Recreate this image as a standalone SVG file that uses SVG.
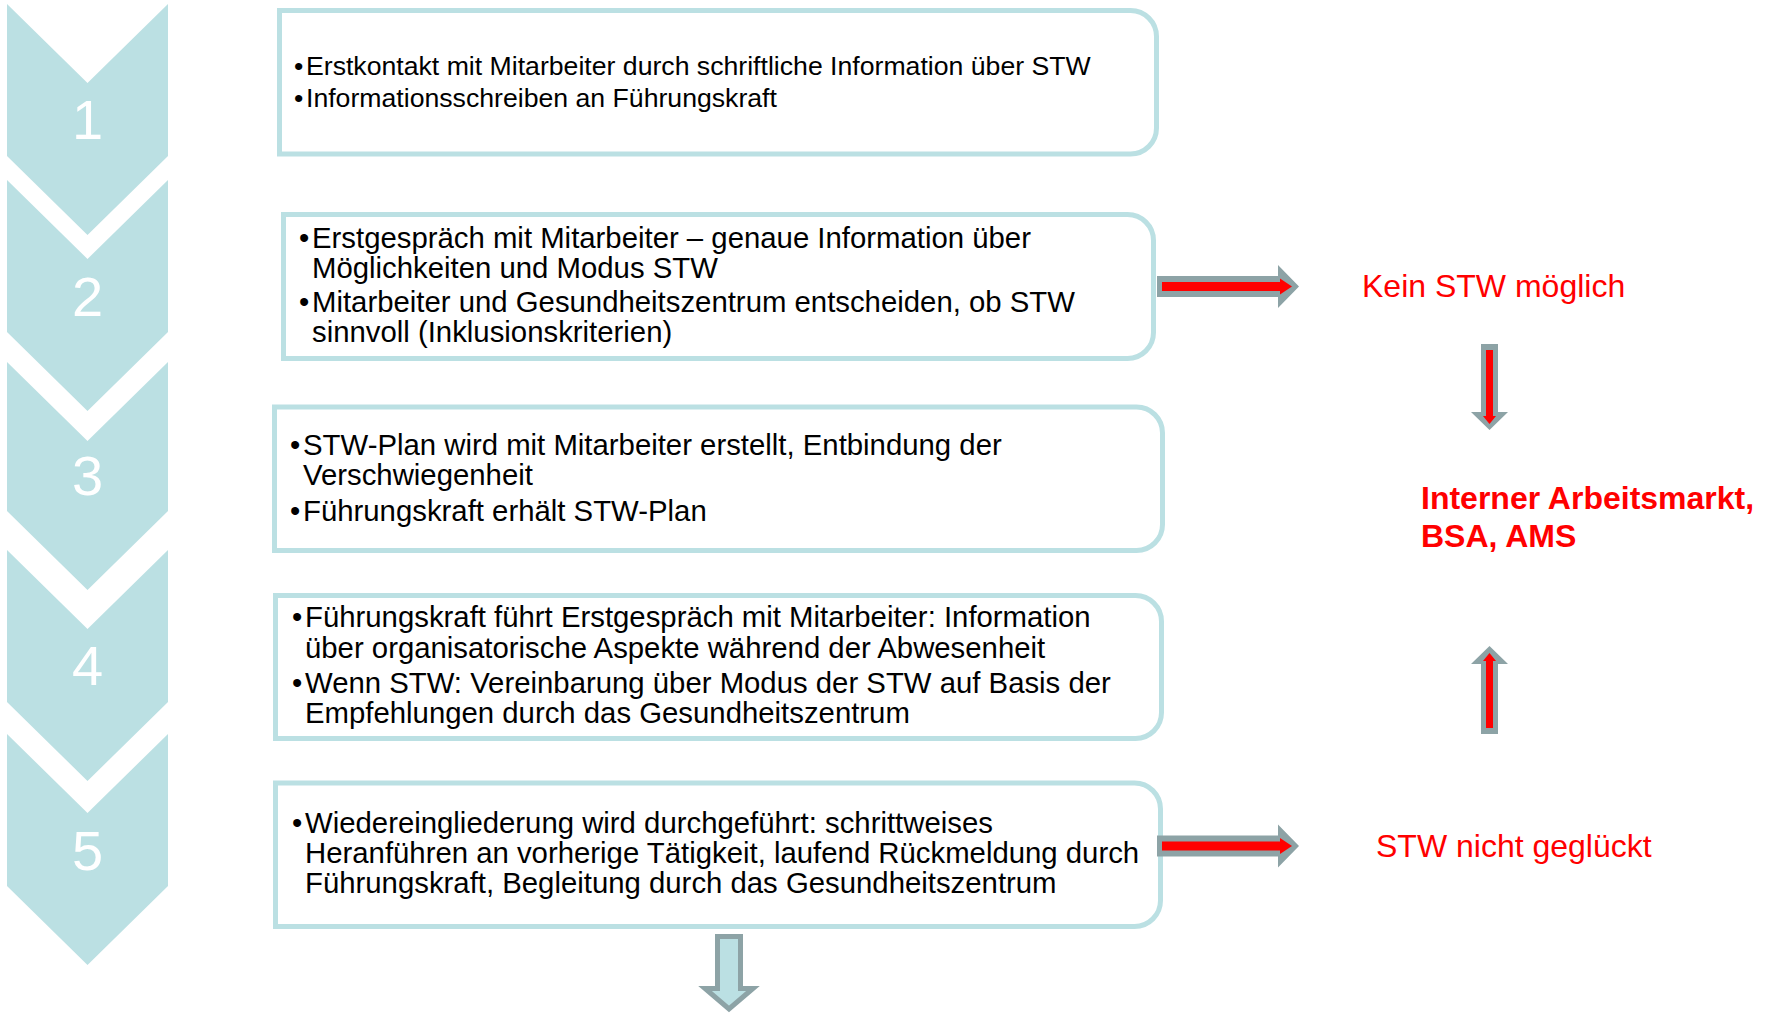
<svg xmlns="http://www.w3.org/2000/svg" width="1772" height="1014" viewBox="0 0 1772 1014">
<style>
.chev{fill:#BBE0E3}
.num{font-family:"Liberation Sans",Arial,sans-serif;font-size:56px;fill:#FFFFFF;text-anchor:middle}
.box{fill:#FFFFFF;stroke:#BBE0E3;stroke-width:5}
.t{font-family:"Liberation Sans",Arial,sans-serif;font-size:29.33px;fill:#000000}
.t1{font-size:26.65px}
.red{font-family:"Liberation Sans",Arial,sans-serif;font-size:32px;fill:#FF0000}
.b{font-weight:bold}
.ag{fill:#8DA3A6}
.ar{fill:#FF0000}
.down{fill:#BBE0E3;stroke:#8DA3A6;stroke-width:5}
</style>
<rect width="1772" height="1014" fill="#FFFFFF"/>

<g id="steps">
  <g id="step1"><polygon class="chev" points="7,4 87.5,83 168,4 168,156 87.5,235 7,156"/><text class="num" x="87.5" y="139">1</text></g>
  <g id="step2"><polygon class="chev" points="7,180 87.5,259 168,180 168,332 87.5,411 7,332"/><text class="num" x="87.5" y="316">2</text></g>
  <g id="step3"><polygon class="chev" points="7,362 87.5,441 168,362 168,511 87.5,590 7,511"/><text class="num" x="87.5" y="495">3</text></g>
  <g id="step4"><polygon class="chev" points="7,550 87.5,629 168,550 168,702 87.5,781 7,702"/><text class="num" x="87.5" y="685">4</text></g>
  <g id="step5"><polygon class="chev" points="7,734 87.5,813 168,734 168,886 87.5,965 7,886"/><text class="num" x="87.5" y="870">5</text></g>
</g>

<g id="box1">
  <path class="box" d="M279.5,10.5 H1130.5 A26,26 0 0 1 1156.5,36.5 V128 A26,26 0 0 1 1130.5,154 H279.5 Z"/>
  <text class="t t1"><tspan x="294" y="75">•</tspan><tspan x="306" y="75">Erstkontakt mit Mitarbeiter durch schriftliche Information über STW</tspan><tspan x="294" y="107">•</tspan><tspan x="306" y="107">Informationsschreiben an Führungskraft</tspan></text>
</g>

<g id="box2">
  <path class="box" d="M283.5,214.5 H1127.5 A26,26 0 0 1 1153.5,240.5 V332.5 A26,26 0 0 1 1127.5,358.5 H283.5 Z"/>
  <text class="t"><tspan x="299" y="248">•</tspan><tspan x="312" y="248">Erstgespräch mit Mitarbeiter – genaue Information über</tspan><tspan x="312" y="278">Möglichkeiten und Modus STW</tspan><tspan x="299" y="312">•</tspan><tspan x="312" y="312">Mitarbeiter und Gesundheitszentrum entscheiden, ob STW</tspan><tspan x="312" y="342">sinnvoll (Inklusionskriterien)</tspan></text>
</g>

<g id="box3">
  <path class="box" d="M274.5,407 H1136.5 A26,26 0 0 1 1162.5,433 V524.5 A26,26 0 0 1 1136.5,550.5 H274.5 Z"/>
  <text class="t"><tspan x="290" y="455">•</tspan><tspan x="303" y="455">STW-Plan wird mit Mitarbeiter erstellt, Entbindung der</tspan><tspan x="303" y="485">Verschwiegenheit</tspan><tspan x="290" y="521">•</tspan><tspan x="303" y="521">Führungskraft erhält STW-Plan</tspan></text>
</g>

<g id="box4">
  <path class="box" d="M275.5,595.5 H1135.5 A26,26 0 0 1 1161.5,621.5 V712.5 A26,26 0 0 1 1135.5,738.5 H275.5 Z"/>
  <text class="t"><tspan x="292" y="627">•</tspan><tspan x="305" y="627">Führungskraft führt Erstgespräch mit Mitarbeiter: Information</tspan><tspan x="305" y="658">über organisatorische Aspekte während der Abwesenheit</tspan><tspan x="292" y="693">•</tspan><tspan x="305" y="693">Wenn STW: Vereinbarung über Modus der STW auf Basis der</tspan><tspan x="305" y="723">Empfehlungen durch das Gesundheitszentrum</tspan></text>
</g>

<g id="box5">
  <path class="box" d="M275.5,783 H1134.5 A26,26 0 0 1 1160.5,809 V900.5 A26,26 0 0 1 1134.5,926.5 H275.5 Z"/>
  <text class="t"><tspan x="292" y="833">•</tspan><tspan x="305" y="833">Wiedereingliederung wird durchgeführt: schrittweises</tspan><tspan x="305" y="863">Heranführen an vorherige Tätigkeit, laufend Rückmeldung durch</tspan><tspan x="305" y="893">Führungskraft, Begleitung durch das Gesundheitszentrum</tspan></text>
</g>

<g id="kein">
  <text class="red" x="1362" y="297">Kein STW möglich</text>
</g>
<g id="intern">
  <text class="red b"><tspan x="1421" y="509">Interner Arbeitsmarkt,</tspan><tspan x="1421" y="547">BSA, AMS</tspan></text>
</g>
<g id="nicht">
  <text class="red" x="1376" y="857">STW nicht geglückt</text>
</g>

<g id="connectors">
  <g id="arrow-box2-kein">
    <polygon class="ag" points="1157,276 1278,276 1278,265 1299,286.5 1278,308 1278,297 1157,297"/>
    <polygon class="ar" points="1162,282 1280,282 1280,278.5 1292,286.5 1280,294.5 1280,291 1162,291"/>
  </g>
  <g id="arrow-kein-intern">
    <polygon class="ag" points="1481,344 1498,344 1498,412 1508,412 1489.5,430 1471,412 1481,412"/>
    <polygon class="ar" points="1486,350 1493,350 1493,416 1496,416 1489.5,424 1483,416 1486,416"/>
  </g>
  <g id="arrow-nicht-intern">
    <polygon class="ag" points="1481,734 1498,734 1498,664 1508,664 1489.5,646 1471,664 1481,664"/>
    <polygon class="ar" points="1486,728 1493,728 1493,661 1496,661 1489.5,653 1483,661 1486,661"/>
  </g>
  <g id="arrow-box5-nicht">
    <polygon class="ag" points="1157,835.5 1278,835.5 1278,824.5 1299,846 1278,867.5 1278,856.5 1157,856.5"/>
    <polygon class="ar" points="1162,841.5 1280,841.5 1280,838 1292,846 1280,854 1280,850.5 1162,850.5"/>
  </g>
  <g id="arrow-box5-down">
    <polygon class="down" points="717.5,936.5 740.5,936.5 740.5,988.5 753,988.5 729,1009 705,988.5 717.5,988.5"/>
  </g>
</g>
</svg>
